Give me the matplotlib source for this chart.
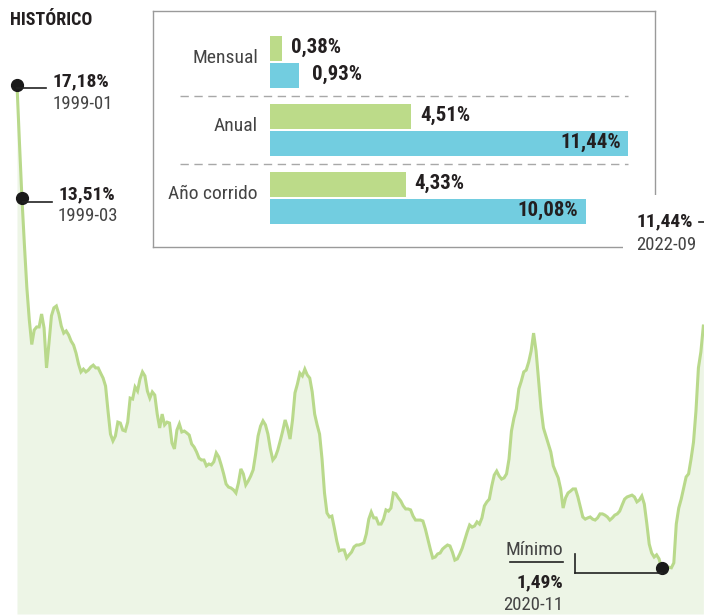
import matplotlib
matplotlib.use('Agg')
import matplotlib.pyplot as plt
import numpy as np
import pandas as pd
from matplotlib import font_manager
from matplotlib.patches import Rectangle
from matplotlib.lines import Line2D

# ---------------- data ----------------
values = [
    17.18, 15.30, 13.51, 12.00, 10.60, 9.55, 8.75, 9.22, 9.32, 9.32, 9.74, 9.29,   # 1999
    7.99, 8.80, 9.68, 9.94, 10.00, 9.74, 9.35, 9.12, 9.19, 9.06, 8.86, 8.73,       # 2000
    8.47, 8.12, 7.86, 7.95, 7.86, 7.92, 8.02, 8.08, 7.99, 7.99, 7.82, 7.66,        # 2001
    7.40, 6.59, 5.84, 5.62, 5.78, 6.23, 6.20, 5.97, 5.94, 6.23, 7.01, 6.98,        # 2002
    7.37, 7.24, 7.63, 7.86, 7.73, 7.24, 7.01, 7.21, 7.11, 6.49, 6.04, 6.49,        # 2003
    6.14, 6.23, 6.20, 5.55, 5.36, 5.97, 6.17, 5.91, 5.94, 5.88, 5.81, 5.52,        # 2004
    5.42, 5.26, 5.06, 5.00, 5.00, 4.81, 4.87, 4.84, 4.94, 5.23, 5.10, 4.84,        # 2005
    4.55, 4.22, 4.12, 4.09, 4.03, 3.93, 4.25, 4.71, 4.55, 4.19, 4.32, 4.48,        # 2006
    4.68, 5.19, 5.78, 6.10, 6.27, 6.14, 5.84, 5.36, 5.00, 5.10, 5.32, 5.62,        # 2007
    5.94, 6.30, 6.04, 5.68, 6.30, 7.18, 7.47, 7.82, 7.73, 7.95, 7.76, 7.66,        # 2008
    7.21, 6.49, 6.14, 5.84, 5.03, 3.93, 3.28, 3.15, 3.18, 2.79, 2.37, 2.05,        # 2009
    2.08, 2.08, 1.82, 1.92, 2.01, 2.18, 2.24, 2.24, 2.27, 2.31, 2.60, 3.08,        # 2010
    3.31, 3.12, 3.12, 2.92, 2.92, 3.08, 3.38, 3.34, 3.44, 3.93, 3.90, 3.77,        # 2011
    3.67, 3.51, 3.41, 3.41, 3.38, 3.18, 3.05, 3.05, 3.05, 3.02, 2.76, 2.44,        # 2012
    2.11, 1.82, 1.85, 1.95, 1.98, 2.11, 2.18, 2.24, 2.21, 2.01, 1.75, 1.79,        # 2013
    1.95, 2.14, 2.40, 2.66, 2.89, 2.82, 2.86, 2.99, 2.92, 3.12, 3.51, 3.64,        # 2014
    3.73, 4.16, 4.51, 4.64, 4.48, 4.38, 4.42, 4.55, 5.03, 5.94, 6.36, 6.66,        # 2015
    7.31, 7.56, 7.86, 7.92, 8.18, 8.54, 9.12, 8.54, 7.63, 6.69, 6.04, 5.78,        # 2016
    5.52, 5.26, 4.81, 4.61, 4.42, 4.06, 3.44, 3.77, 3.93, 3.99, 4.06, 4.06,        # 2017
    3.80, 3.47, 3.15, 3.08, 3.12, 3.15, 3.08, 3.05, 3.12, 3.25, 3.25, 3.21,        # 2018
    3.15, 3.05, 3.12, 3.21, 3.25, 3.34, 3.54, 3.73, 3.80, 3.83, 3.86, 3.80,        # 2019
    3.64, 3.70, 3.83, 3.57, 2.95, 2.27, 1.98, 1.85, 1.92, 1.79, 1.49, 1.55,        # 2020
    1.53, 1.52, 1.50, 1.66, 2.92, 3.44, 3.73, 4.09, 4.45, 4.55, 5.03, 5.58,        # 2021
    6.59, 7.99, 8.51, 9.35,                                                        # 2022
]
dates = pd.date_range('1999-01-01', periods=len(values), freq='MS')

last_label = ('11,44%', '2022-09')
min_label = ('1,49%', '2020-11')
first_labels = [('17,18%', '1999-01'), ('13,51%', '1999-03')]

categories = ['Mensual', 'Anual', 'Año corrido']
prev_year = [0.38, 4.51, 4.33]
curr_year = [0.93, 11.44, 10.08]

# ---------------- fonts: prefer a condensed face ----------------
allowed = ('Liberation', 'Noto Sans', 'Roboto', 'Open Sans', 'Lato', 'Inter', 'DejaVu')
cond = []
for f in font_manager.fontManager.ttflist:
    st = str(f.stretch).lower()
    if (('condensed' in st or 'narrow' in f.name.lower() or 'condensed' in f.name.lower())
            and f.name.startswith(allowed) and 'CJK' not in f.name and 'Mono' not in f.name):
        cond.append(f)
if cond:
    # prefer Liberation Sans Narrow / Roboto Condensed / anything else
    order = ['Liberation Sans Narrow', 'Roboto Condensed', 'Open Sans Condensed',
             'Noto Sans', 'DejaVu Sans']
    cond.sort(key=lambda f: next((k for k, o in enumerate(order) if f.name.startswith(o)), 99))
    FONT = cond[0].name
    STRETCH = cond[0].stretch
    SCALE = 1.0
else:
    FONT = 'Liberation Sans'
    STRETCH = 'normal'
    SCALE = 0.86
plt.rcParams['font.family'] = [FONT, 'DejaVu Sans']
plt.rcParams['font.stretch'] = STRETCH

def fs(v):
    return v * SCALE

LINE = '#b9d98b'
FILL = '#edf5e6'
GREEN = '#bcdb89'
BLUE = '#72cde0'
TXT = '#231f20'
GREY = '#444444'

W, H = 704, 616
fig = plt.figure(figsize=(W / 100, H / 100), dpi=100)

def F(x, y):
    return x / W, 1 - y / H

# ---------------- main line chart ----------------
ax = fig.add_axes([0, 0, 1, 1])
ax.axis('off')
m = np.arange(len(values))
px_per_month = 2.46
px_per_pct = 30.8
ax.set_xlim(-17 / px_per_month, (W - 17) / px_per_month)
ax.set_ylim(-2 / px_per_pct, (H - 2) / px_per_pct)
ax.fill_between(m, values, 0, color=FILL, lw=0, zorder=1)
ax.plot(m, values, color=LINE, lw=2.2, zorder=2, solid_joinstyle='miter')

idx = {d.strftime('%Y-%m'): i for i, d in enumerate(dates)}
for _, d in first_labels + [min_label]:
    i = idx[d]
    ax.plot([i], [values[i]], 'o', ms=8.5, color='#1a1a1a', zorder=5)

def seg(x0, y0, x1, y1):
    fig.add_artist(Line2D([x0 / W, x1 / W], [1 - y0 / H, 1 - y1 / H],
                          color='#222222', lw=1.2, zorder=4))

# 1999 labels
seg(17, 88, 46, 88)
fig.text(*F(53, 81), first_labels[0][0], fontsize=fs(14), fontweight='bold', color=TXT, va='center', ha='left')
fig.text(*F(53, 104), first_labels[0][1], fontsize=fs(13.5), color=GREY, va='center', ha='left')
seg(23, 202, 52, 202)
fig.text(*F(58, 194), first_labels[1][0], fontsize=fs(14), fontweight='bold', color=TXT, va='center', ha='left')
fig.text(*F(58, 216), first_labels[1][1], fontsize=fs(13.5), color=GREY, va='center', ha='left')

# minimum
seg(575, 554, 575, 573)
seg(575, 573, 662, 573)
fig.text(*F(563, 550), 'Mínimo', fontsize=fs(14), color=GREY, va='center', ha='right')
seg(510, 562, 563, 562)
fig.text(*F(563, 582), min_label[0], fontsize=fs(14), fontweight='bold', color=TXT, va='center', ha='right')
fig.text(*F(563, 605), min_label[1], fontsize=fs(13.5), color=GREY, va='center', ha='right')

# title
fig.text(*F(10, 20), 'HISTÓRICO', fontsize=fs(13), fontweight='bold', color=TXT, va='center', ha='left')

# ---------------- inset bars ----------------
bx0, bx1, by0, by1 = 153, 655, 11, 247
zero_x, px_bar = 270, 31.3
grp0, grp_step = 62, 68
ins = fig.add_axes([bx0 / W, 1 - by1 / H, (bx1 - bx0) / W, (by1 - by0) / H])
ins.set_facecolor('white')
ins.set_xlim(-(zero_x - bx0) / px_bar, (bx1 - zero_x) / px_bar)
ins.set_ylim((by1 - grp0) / grp_step, (by0 - grp0) / grp_step)
ins.set_xticks([]); ins.set_yticks([])
for s in ins.spines.values():
    s.set_color('#9a9a9a'); s.set_linewidth(1)
ins.set_zorder(3)

bh = 25 / grp_step
off = 13.5 / grp_step
fmt = lambda v: f"{v:.2f}".replace('.', ',') + '%'
for i, (c, p, q) in enumerate(zip(categories, prev_year, curr_year)):
    ins.barh(i - off, p, height=bh, color=GREEN, lw=0)
    ins.barh(i + off, q, height=bh, color=BLUE, lw=0)
    ins.text(-12 / px_bar, i - 0.06, c, ha='right', va='center', fontsize=fs(14), color=GREY)
    ins.text(p + 9 / px_bar, i - off - 0.02, fmt(p), ha='left', va='center',
             fontsize=fs(15), fontweight='bold', color=TXT)
    if q > 3:
        ins.text(q - 7 / px_bar, i + off - 0.02, fmt(q), ha='right', va='center',
                 fontsize=fs(15), fontweight='bold', color=TXT)
    else:
        ins.text(q + 13 / px_bar, i + off - 0.02, fmt(q), ha='left', va='center',
                 fontsize=fs(15), fontweight='bold', color=TXT)
for k in range(len(categories) - 1):
    ins.plot([(180 - zero_x) / px_bar, curr_year[1]], [k + 0.5, k + 0.5],
             color='#a8a8a8', lw=1, ls=(0, (6, 4)))

# last value label (covers inset corner)
fig.add_artist(Rectangle(F(623, 260), 90 / W, 65 / H, facecolor='white',
                         edgecolor='none', zorder=6, transform=fig.transFigure))
fig.text(*F(636, 221), last_label[0], fontsize=fs(14), fontweight='bold', color=TXT,
         va='center', ha='left', zorder=7)
fig.add_artist(Line2D([699 / W, 1.0], [1 - 222 / H, 1 - 222 / H], color='#222222', lw=1.2, zorder=7))
fig.text(*F(636, 245), last_label[1], fontsize=fs(13.5), color=GREY, va='center', ha='left', zorder=7)

fig.savefig('out.png', dpi=100)
